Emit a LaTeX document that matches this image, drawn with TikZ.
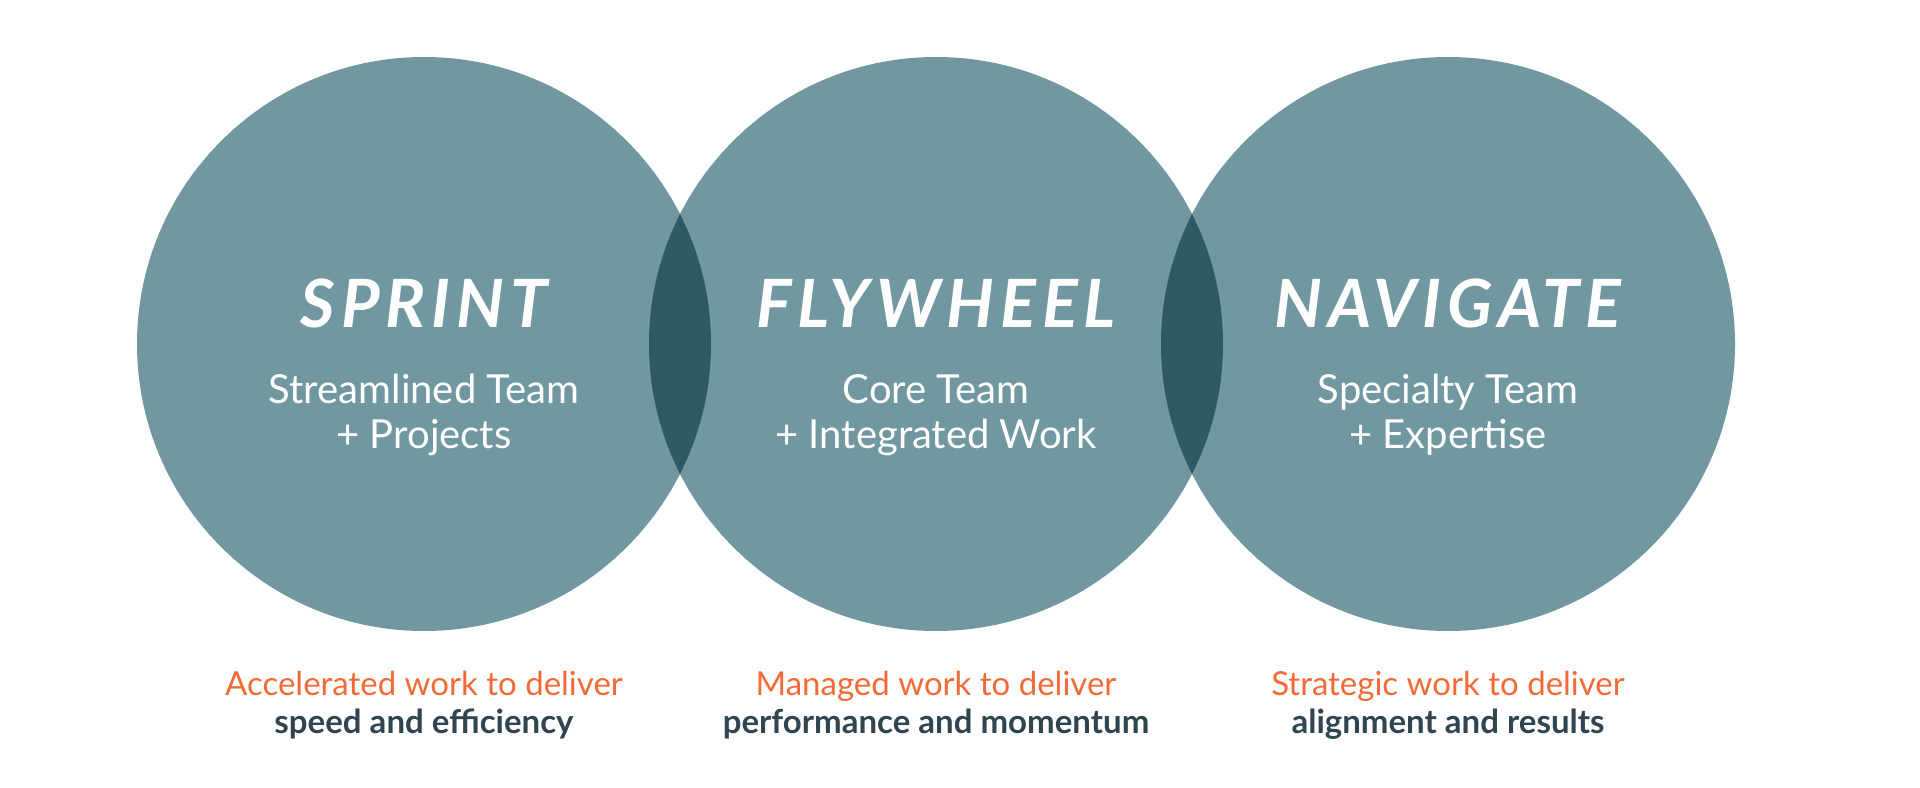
\documentclass[tikz,border=0pt]{standalone}
\usepackage{fontspec}
\setmainfont{Lato}
\newfontfamily\titlefont{Lato}[LetterSpace=9]
\definecolor{circ}{HTML}{7198A0}
\definecolor{lens}{HTML}{2F5A62}
\definecolor{orng}{HTML}{F26A36}
\definecolor{dark}{HTML}{30454F}
\begin{document}
\begin{tikzpicture}[x=0.5pt,y=-0.5pt,
  bub/.style={circle,fill=circ,minimum size=287pt,inner sep=0pt},
  ttl/.style={anchor=base,text=white,font=\titlefont\fontsize{33.3}{36}\selectfont\bfseries\itshape},
  sub/.style={anchor=base,text=white,font=\fontsize{20}{22.5}\selectfont},
  top/.style={anchor=base,text=orng,font=\fontsize{16.5}{19}\selectfont},
  bot/.style={anchor=base,text=dark,font=\fontsize{16.5}{19}\selectfont\bfseries}]
\useasboundingbox (0,0) rectangle (1920,787);
\node[bub] (c1) at (424,344) {};
\node[bub] (c2) at (936,344) {};
\node[bub] (c3) at (1448,344) {};
\begin{scope}
  \clip (c1.center) circle[radius=143.5pt];
  \fill[lens] (c2.center) circle[radius=143.5pt];
\end{scope}
\begin{scope}
  \clip (c2.center) circle[radius=143.5pt];
  \fill[lens] (c3.center) circle[radius=143.5pt];
\end{scope}
\node[ttl] (t1) at (424,327) {SPRINT};
\node[ttl] (t2) at (936,327) {FLYWHEEL};
\node[ttl] (t3) at (1448,327) {NAVIGATE};
\node[sub] (s1a) at (424,403) {Streamlined Team};
\node[sub] (s1b) at (424,448) {+ Projects};
\node[sub] (s2a) at (936,403) {Core Team};
\node[sub] (s2b) at (936,448) {+ Integrated Work};
\node[sub] (s3a) at (1448,403) {Specialty Team};
\node[sub] (s3b) at (1448,448) {+ Expertise};
\node[top] (b1a) at (424,695) {Accelerated work to deliver};
\node[bot] (b1b) at (424,733) {speed and efficiency};
\node[top] (b2a) at (936,695) {Managed work to deliver};
\node[bot] (b2b) at (936,733) {performance and momentum};
\node[top] (b3a) at (1448,695) {Strategic work to deliver};
\node[bot] (b3b) at (1448,733) {alignment and results};
\end{tikzpicture}
\end{document}
